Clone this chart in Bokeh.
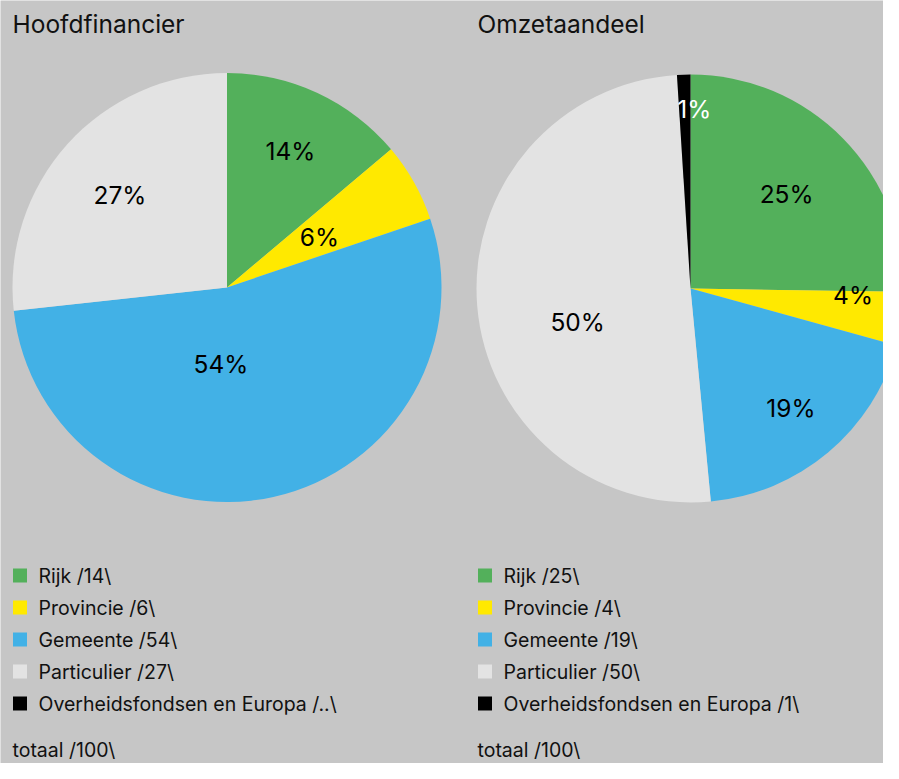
import numpy as np
from bokeh.plotting import figure
from bokeh.models import Range1d
from bokeh.core.properties import value
from bokeh.embed import file_html
from bokeh.resources import INLINE

# ---------------- data ----------------
categories = ["Rijk", "Provincie", "Gemeente", "Particulier", "Overheidsfondsen en Europa"]
titles = ["Hoofdfinancier", "Omzetaandeel"]
hoofd_values = [14, 6, 54, 27, 0]
hoofd_legend = ["14", "6", "54", "27", ".."]
omzet_values = [25, 4, 19, 50, 1]
omzet_legend = ["25", "4", "19", "50", "1"]
totals = ["100", "100"]

# ---------------- style ----------------
colors = ["#53b05b", "#ffe900", "#42b1e6", "#e3e3e3", "#000000"]
label_colors = ["#000000", "#000000", "#000000", "#000000", "#ffffff"]
BG = "#c6c6c6"
FONT = "Inter"
W, H = 883, 763

# label placement: (radius fraction, angle shift in degrees)
hoofd_label_layout = [(0.70, 0), (0.49, 1), (0.36, 17), (0.66, -1), (0.8, 0)]
omzet_label_layout = [(0.63, 0), (0.76, -6), (0.73, 0), (0.55, -12), (0.84, 3)]

p = figure(width=W, height=H, x_range=Range1d(0, W), y_range=Range1d(0, H),
           output_backend="svg", toolbar_location=None, min_border=0,
           x_axis_location=None, y_axis_location=None,
           background_fill_color=BG, border_fill_color=BG, outline_line_color=None)
p.xgrid.visible = False
p.ygrid.visible = False


def Y(y):
    return H - y


def draw_pie(cx, cy, r, vals, layout):
    v = np.array(vals, dtype=float)
    frac = v / v.sum()
    cum = np.concatenate([[0.0], np.cumsum(frac)])
    keep = v > 0
    start = np.pi / 2 - 2 * np.pi * cum[1:]
    end = np.pi / 2 - 2 * np.pi * cum[:-1]
    p.wedge(x=cx, y=cy, radius=r,
            start_angle=list(start[keep]), end_angle=list(end[keep]),
            direction="anticlock",
            fill_color=[c for c, k in zip(colors, keep) if k],
            line_color=None)
    xs, ys, txt, tc = [], [], [], []
    for i in range(len(vals)):
        if not keep[i]:
            continue
        mid = (cum[i] + cum[i + 1]) / 2
        lr, shift = layout[i]
        a = np.deg2rad(360 * mid + shift)
        xs.append(cx + lr * r * np.sin(a))
        ys.append(cy + lr * r * np.cos(a))
        txt.append(f"{vals[i]}%")
        tc.append(label_colors[i])
    p.text(x=xs, y=ys, text=txt, text_color=tc, text_align="center",
           text_baseline="middle", text_font=value(FONT), text_font_size="24.5px")


def draw_legend(x0, labels, total, title):
    p.text(x=[x0], y=[Y(23)], text=[title], text_align="left", text_baseline="middle",
           text_font=value(FONT), text_font_size="24.5px", text_color="#111111")
    ys = [Y(575 + 32 * i) for i in range(len(categories))]
    p.rect(x=[x0 + 7.5] * len(categories), y=ys, width=14, height=14,
           fill_color=colors, line_color=None)
    p.text(x=[x0 + 26] * len(categories), y=ys,
           text=[f"{c} /{l}\\" for c, l in zip(categories, labels)],
           text_align="left", text_baseline="middle", text_font=value(FONT),
           text_font_size="19.5px", text_color="#111111")
    p.text(x=[x0], y=[Y(749)], text=[f"totaal /{total}\\"], text_align="left",
           text_baseline="middle", text_font=value(FONT), text_font_size="19.5px",
           text_color="#111111")


draw_pie(226.5, Y(287), 214.5, hoofd_values, hoofd_label_layout)
draw_pie(690, Y(288), 214, omzet_values, omzet_label_layout)
draw_legend(12, hoofd_legend, totals[0], titles[0])
draw_legend(477, omzet_legend, totals[1], titles[1])

open("out.html", "w").write(file_html(p, INLINE))
